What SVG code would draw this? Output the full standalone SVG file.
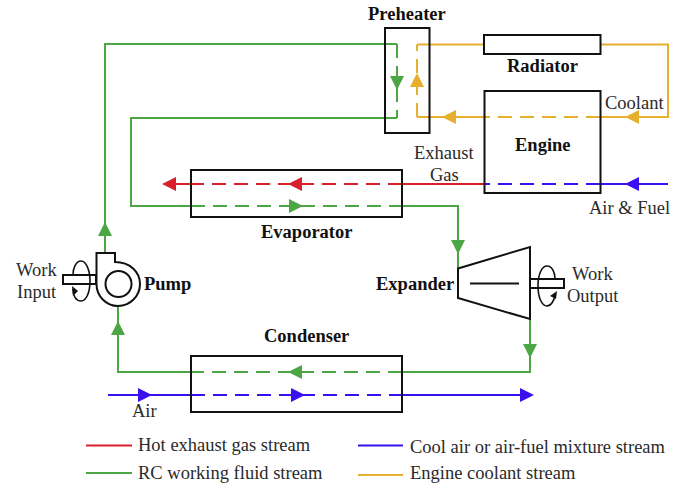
<svg xmlns="http://www.w3.org/2000/svg" width="683" height="483" viewBox="0 0 683 483">
<style>
text{font-family:"Liberation Serif","Times New Roman",serif;font-size:18.500px;fill:#2a2a2a}
.b{font-weight:bold;fill:#111}
.box{fill:none;stroke:#111;stroke-width:2}
.w{fill:#fff;stroke:#111;stroke-width:2}
.l{fill:none;stroke-width:2}
.d{stroke-dasharray:14 8}
.g{stroke:#4ca644}.gf{fill:#4ca644}
.y{stroke:#e6b02e}.yf{fill:#e6b02e}
.r{stroke:#d8202c}.rf{fill:#d8202c}
.u{stroke:#3a10f0}.uf{fill:#3a10f0}
.a{fill:none;stroke:#111;stroke-width:1.6}
</style>
<defs>
<polygon id="ar" points="0,0 -14,-7 -14,7"/>
</defs>
<g id="connectors">
<path class="l g" d="M105 253V44H397M397 118H131V206H191M402 206H458V268M530 319V372H402M191 372H118V306"/>
<path class="l g d" d="M397 44V118M191 206H402M402 372H191"/>
<path class="l y" d="M483 44.500H417M601 44.500H668V117H601M484 117H417"/>
<path class="l y d" d="M417 117V44.500M600 117H484"/>
<path class="l r" d="M484 184H402M191 184H176"/>
<path class="l r d" d="M402 184H191"/>
<path class="l u" d="M668 184H600M108 395H191M402 395H520"/>
<path class="l u d" d="M600 184H484M191 395H402"/>
<use href="#ar" class="gf" transform="translate(105 222) rotate(-90)"/>
<use href="#ar" class="gf" transform="translate(118 321) rotate(-90)"/>
<use href="#ar" class="gf" transform="translate(397 90) rotate(90)"/>
<use href="#ar" class="gf" transform="translate(303 206)"/>
<use href="#ar" class="gf" transform="translate(458 254) rotate(90)"/>
<use href="#ar" class="gf" transform="translate(530 358) rotate(90)"/>
<use href="#ar" class="gf" transform="translate(288 372) rotate(180)"/>
<use href="#ar" class="yf" transform="translate(417 73) rotate(-90)"/>
<use href="#ar" class="yf" transform="translate(442 117) rotate(180)"/>
<use href="#ar" class="yf" transform="translate(625 117) rotate(180)"/>
<use href="#ar" class="rf" transform="translate(162 184) rotate(180)"/>
<use href="#ar" class="rf" transform="translate(288 184) rotate(180)"/>
<use href="#ar" class="uf" transform="translate(625 184) rotate(180)"/>
<use href="#ar" class="uf" transform="translate(152 395)"/>
<use href="#ar" class="uf" transform="translate(305 395)"/>
<use href="#ar" class="uf" transform="translate(534 395)"/>
</g>
<g id="preheater"><rect class="box" x="385" y="28" width="44.500" height="105"/><text class="b" x="368" y="20">Preheater</text></g>
<g id="radiator"><rect class="box" x="484" y="35" width="116.500" height="19"/><text class="b" x="507" y="72">Radiator</text></g>
<g id="engine"><rect class="box" x="484.500" y="91" width="116" height="102"/><text class="b" x="515" y="151">Engine</text></g>
<g id="evaporator"><rect class="box" x="191" y="170" width="211" height="47"/><text class="b" x="261" y="238">Evaporator</text></g>
<g id="condenser"><rect class="box" x="191" y="356" width="211" height="56"/><text class="b" x="264" y="342">Condenser</text></g>
<g id="pump">
<path class="w" d="M96.500 253H115V262C130 262 140 272 140 284C140 296 130 306 118 306C106 306 96.500 296 96.500 284Z"/>
<circle class="box" cx="118.500" cy="284" r="13"/>
<rect class="w" x="63" y="275" width="33" height="9"/>
<path class="a" d="M73 275C73 268 76 261 81 261C86 261 90 270 90 281C90 293 86 301 81 301C76 301 73 296 73 289"/>
<polygon points="72,286 78,291 73,296" fill="#111"/>
<text class="b" x="144" y="290">Pump</text>
<text x="16" y="276">Work</text><text x="17" y="298">Input</text>
</g>
<g id="expander">
<path class="w" d="M458 268.500L530 247V319L458 298Z"/>
<path class="box" d="M470 283.500H519"/>
<rect class="w" x="530" y="279" width="34" height="9"/>
<path class="a" d="M555 279C555 272 552 266 547 266C542 266 538 274 538 286C538 298 542 306 547 306C551 306 554 301 555 295"/>
<polygon points="550,296 557,291 556,299" fill="#111"/>
<text class="b" x="376" y="290">Expander</text>
<text x="572" y="280">Work</text><text x="567" y="302">Output</text>
</g>
<g id="labels">
<text x="605" y="109">Coolant</text>
<text x="414" y="159">Exhaust</text>
<text x="430" y="181">Gas</text>
<text x="589" y="214">Air &amp; Fuel</text>
<text x="132" y="417">Air</text>
</g>
<g id="legend">
<path class="l r" d="M86 445.500H132"/>
<path class="l g" d="M86 473H132"/>
<path class="l u" d="M358 445.500H403"/>
<path class="l y" d="M358 475H403"/>
<text x="138" y="451">Hot exhaust gas stream</text>
<text x="138" y="479">RC working fluid stream</text>
<text x="410" y="453">Cool air or air-fuel mixture stream</text>
<text x="410" y="479">Engine coolant stream</text>
</g>
</svg>
